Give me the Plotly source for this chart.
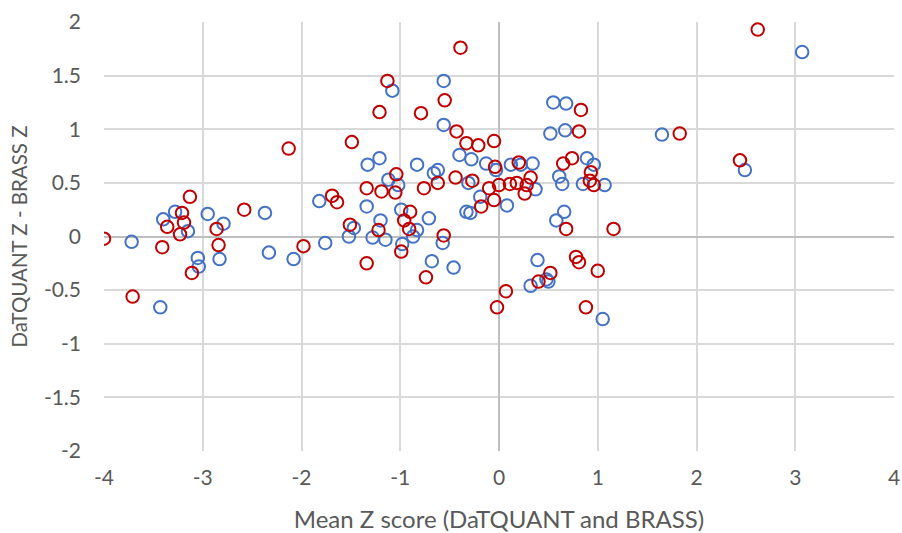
import plotly.graph_objects as go

# Series 1 (blue): mean Z score vs. difference of Z scores
blue_x = [-3.40, -3.28, -3.15, -2.95, -2.79, -2.37, -3.72, -3.05, -3.04, -2.83,
          -2.33, -2.08, -3.43, -1.82, -1.76, -1.33, -1.21, -1.12, -1.02, -1.34,
          -1.20, -1.47, -1.52, -1.28, -1.15, -0.99, -0.83, -0.87, -0.98, -0.83,
          -0.71, -0.66, -0.62, -0.57, -0.68, -0.46, -0.40, -0.28, -0.13, -0.31,
          -0.33, -0.29, -0.19, -0.03, -0.56, -0.56, -1.08, 0.12, 0.22, 0.34,
          0.08, 0.37, 0.55, 0.68, 0.52, 0.67, 0.61, 0.64, 0.89, 0.96,
          0.85, 1.07, 0.66, 0.58, 0.39, 0.50, 0.48, 0.32, 1.05, 1.65,
          3.07, 2.49]
blue_y = [0.16, 0.23, 0.05, 0.21, 0.12, 0.22, -0.05, -0.20, -0.28, -0.21,
          -0.15, -0.21, -0.66, 0.33, -0.06, 0.67, 0.73, 0.53, 0.48, 0.28,
          0.15, 0.08, 0.00, -0.01, -0.03, 0.25, 0.06, 0.00, -0.07, 0.67,
          0.17, 0.59, 0.62, -0.06, -0.23, -0.29, 0.76, 0.72, 0.68, 0.50,
          0.23, 0.22, 0.37, 0.62, 1.04, 1.45, 1.36, 0.67, 0.67, 0.68,
          0.29, 0.44, 1.25, 1.24, 0.96, 0.99, 0.56, 0.49, 0.73, 0.67,
          0.49, 0.48, 0.23, 0.15, -0.22, -0.42, -0.40, -0.46, -0.77, 0.95,
          1.72, 0.62]

# Series 2 (red)
red_x = [-2.13, -4.00, -3.13, -3.21, -3.36, -3.19, -3.23, -2.58, -2.86, -2.84,
         -3.41, -3.11, -3.71, -1.98, -1.49, -1.69, -1.64, -1.51, -1.34, -1.34,
         -1.19, -1.05, -1.04, -1.22, -0.90, -0.96, -0.91, -0.99, -0.76, -0.62,
         -0.56, -0.74, -0.43, -0.33, -0.21, -0.05, -0.44, -0.27, -0.10, -0.05,
         -0.18, -0.04, -0.39, -1.13, -1.21, -0.79, -0.55, 0.00, 0.11, 0.20,
         0.18, 0.32, 0.28, 0.26, 0.83, 0.81, 0.74, 0.65, 0.93, 0.92,
         0.96, 0.68, 1.16, 0.78, 0.81, 1.00, 0.52, 0.40, 0.07, -0.02,
         0.88, 1.83, 2.62, 2.44]
red_y = [0.82, -0.02, 0.37, 0.22, 0.09, 0.13, 0.02, 0.25, 0.07, -0.08,
         -0.10, -0.34, -0.56, -0.09, 0.88, 0.38, 0.32, 0.11, -0.25, 0.45,
         0.42, 0.41, 0.58, 0.06, 0.23, 0.15, 0.07, -0.14, 0.45, 0.50,
         0.01, -0.38, 0.98, 0.87, 0.85, 0.89, 0.55, 0.52, 0.45, 0.34,
         0.28, 0.65, 1.76, 1.45, 1.16, 1.15, 1.27, 0.48, 0.49, 0.69,
         0.50, 0.55, 0.48, 0.40, 1.18, 0.98, 0.73, 0.68, 0.60, 0.52,
         0.48, 0.07, 0.07, -0.19, -0.24, -0.32, -0.34, -0.42, -0.51, -0.66,
         -0.66, 0.96, 1.93, 0.71]

x_ticks = [-4, -3, -2, -1, 0, 1, 2, 3, 4]
y_ticks = [-2, -1.5, -1, -0.5, 0, 0.5, 1, 1.5, 2]

FONT = "Lato, 'Open Sans', sans-serif"
TEXT = "#595959"

fig = go.Figure()
fig.add_trace(go.Scatter(
    x=blue_x, y=blue_y, mode="markers", name="DaTQUANT",
    marker=dict(symbol="circle-open", size=12.5, color="#4472C4",
                line=dict(width=2, color="#4472C4")),
))
fig.add_trace(go.Scatter(
    x=red_x, y=red_y, mode="markers", name="BRASS",
    marker=dict(symbol="circle-open", size=12.5, color="#C00000",
                line=dict(width=2, color="#C00000")),
))

fig.update_layout(
    width=902, height=533,
    margin=dict(l=104, r=8, t=22, b=82),
    paper_bgcolor="white", plot_bgcolor="white",
    showlegend=False,
    font=dict(family=FONT, color=TEXT, size=21),
)
fig.update_xaxes(
    range=[-4, 4], tickvals=x_ticks, ticktext=[str(v) for v in x_ticks],
    automargin=False,
    showgrid=True, gridcolor="#D9D9D9", gridwidth=1.5,
    zeroline=True, zerolinecolor="#BFBFBF", zerolinewidth=1.5,
    showline=False, ticks="", ticklabelstandoff=12,
    tickfont=dict(family=FONT, size=21, color=TEXT),
    title=dict(text="Mean Z score (DaTQUANT and BRASS)", standoff=23,
               font=dict(family=FONT, size=24, color=TEXT)),
)
fig.update_yaxes(
    range=[-2, 2], tickvals=y_ticks, ticktext=[str(v) for v in y_ticks],
    automargin=False,
    showgrid=True, gridcolor="#D9D9D9", gridwidth=1.5,
    zeroline=True, zerolinecolor="#BFBFBF", zerolinewidth=1.5,
    showline=False, ticks="", ticklabelstandoff=22,
    tickfont=dict(family=FONT, size=21, color=TEXT),
    title=dict(text="DaTQUANT Z - BRASS Z", standoff=10,
               font=dict(family=FONT, size=20.5, color=TEXT)),
)

fig.write_html("out.html")
